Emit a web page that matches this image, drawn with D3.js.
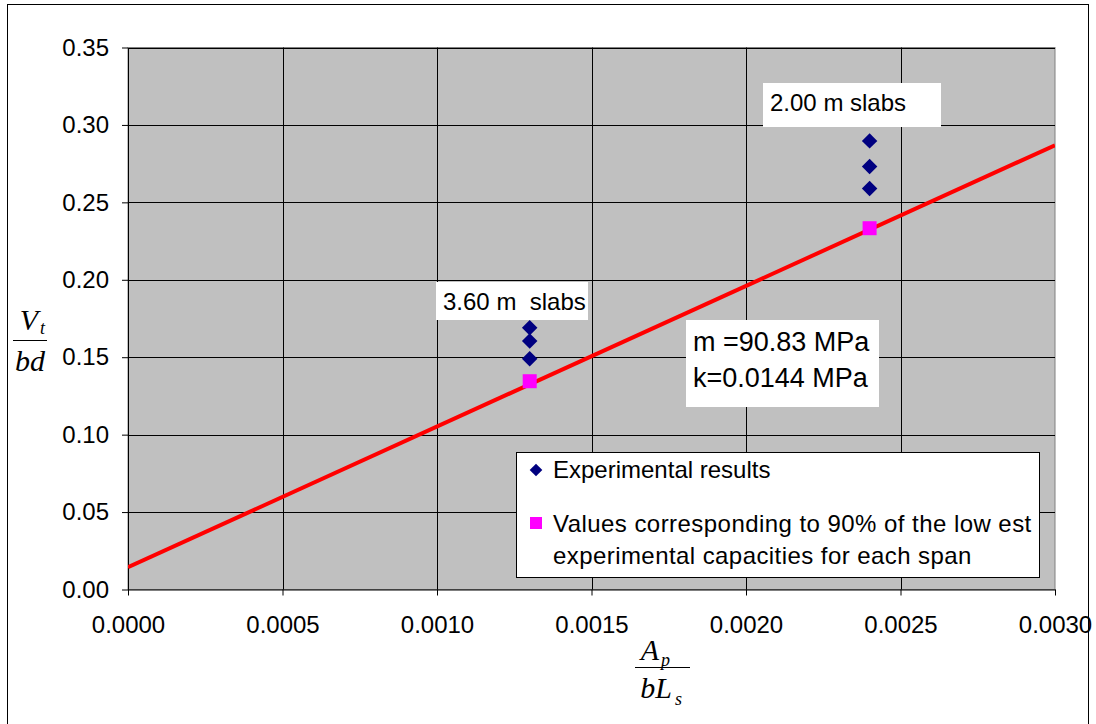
<!DOCTYPE html>
<html><head><meta charset="utf-8">
<script src="https://cdn.jsdelivr.net/npm/d3@7"></script>
<style>body{margin:0;background:#fff}svg{display:block}</style>
</head><body>
<svg id="c" width="1096" height="724"></svg>
<script>
const xTicks = [0, 0.0005, 0.0010, 0.0015, 0.0020, 0.0025, 0.0030];
const yTicks = [0, 0.05, 0.10, 0.15, 0.20, 0.25, 0.30, 0.35];
const expX = [0.0013, 0.0013, 0.0013, 0.0024, 0.0024, 0.0024];
const expY = [0.169, 0.1605, 0.149, 0.2897, 0.2731, 0.2589];
const designX = [0.0013, 0.0024];
const designY = [0.1345, 0.2333];
const fitM = 90.83, fitK = 0.0144;
const lineX = [0, 0.0030];

const svg = d3.select("#c");
const font = "Liberation Sans, Arial, sans-serif";
const L = 128, R = 1055, T = 47.5, B = 589.5;
const x = d3.scaleLinear().domain([0, 0.003]).range([L, R]);
const y = d3.scaleLinear().domain([0, 0.35]).range([B, T]);

// outer border
svg.append("rect").attr("x", 7.5).attr("y", 4.5).attr("width", 1081).attr("height", 730)
  .attr("fill", "#fff").attr("stroke", "#000").attr("stroke-width", 1);

// plot background
svg.append("rect").attr("x", L).attr("y", T).attr("width", R - L).attr("height", B - T)
  .attr("fill", "#c0c0c0").attr("stroke", "#808080").attr("stroke-width", 1);

// grid
svg.append("g").selectAll("line").data(yTicks.slice(1)).join("line")
  .attr("x1", L).attr("x2", R).attr("y1", d => Math.round(y(d)) + 0.5).attr("y2", d => Math.round(y(d)) + 0.5)
  .attr("stroke", "#000").attr("stroke-width", 1);
svg.append("g").selectAll("line").data(xTicks.slice(1, -1)).join("line")
  .attr("y1", T).attr("y2", B).attr("x1", d => Math.round(x(d)) + 0.5).attr("x2", d => Math.round(x(d)) + 0.5)
  .attr("stroke", "#000").attr("stroke-width", 1);

// axes
const xAxis = d3.axisBottom(x).tickValues(xTicks).tickFormat(d3.format(".4f")).tickSizeInner(6).tickSizeOuter(0).tickPadding(20);
const gx = svg.append("g").attr("transform", `translate(0,${B})`).call(xAxis);
gx.select(".domain").attr("stroke", "#000");
gx.selectAll("text").attr("font-family", font).attr("font-size", 24).attr("fill", "#000");
const yAxis = d3.axisLeft(y).tickValues(yTicks).tickFormat(d3.format(".2f")).tickSizeInner(6).tickSizeOuter(0).tickPadding(13);
const gy = svg.append("g").attr("transform", `translate(${L},0)`).call(yAxis);
gy.select(".domain").attr("stroke", "#000");
gy.selectAll("text").attr("font-family", font).attr("font-size", 24).attr("fill", "#000");

// clip for line
svg.append("clipPath").attr("id", "clip").append("rect").attr("x", L).attr("y", T).attr("width", R - L).attr("height", B - T);

// fit line
svg.append("path").attr("clip-path", "url(#clip)")
  .attr("d", d3.line().x(d => x(d)).y(d => y(fitK + fitM * d))(lineX))
  .attr("fill", "none").attr("stroke", "#ff0000").attr("stroke-width", 4);

// design points (squares)
svg.append("g").selectAll("rect").data(designX.map((d, i) => [d, designY[i]])).join("rect")
  .attr("x", d => x(d[0]) - 7).attr("y", d => y(d[1]) - 7).attr("width", 14).attr("height", 14)
  .attr("fill", "#ff00ff");

// experimental diamonds
const diamond = d3.symbol().type(d3.symbolSquare).size(120);
svg.append("g").selectAll("path").data(expX.map((d, i) => [d, expY[i]])).join("path")
  .attr("d", diamond).attr("transform", d => `translate(${x(d[0])},${y(d[1])}) rotate(45)`)
  .attr("fill", "#000080");

// label boxes
function box(x0, y0, w, h) {
  svg.append("rect").attr("x", x0).attr("y", y0).attr("width", w).attr("height", h).attr("fill", "#fff");
}
function txt(s, tx, ty, size, ls) {
  svg.append("text").attr("x", tx).attr("y", ty).attr("font-family", font).attr("font-size", size)
    .attr("letter-spacing", ls || 0).attr("fill", "#000").attr("xml:space", "preserve")
    .style("white-space", "pre").text(s);
}
box(436, 282, 152, 38);
txt("3.60 m  slabs", 443, 310, 24);
box(763, 83, 178, 44);
txt("2.00 m slabs", 770, 111, 24);
box(686, 320, 193, 87);
txt("m =90.83 MPa", 693, 351, 27);
txt("k=0.0144 MPa", 693, 387, 27);

// legend
svg.append("rect").attr("x", 516.5).attr("y", 452.5).attr("width", 523).attr("height", 125)
  .attr("fill", "#fff").attr("stroke", "#000").attr("stroke-width", 1);
svg.append("path").attr("d", d3.symbol().type(d3.symbolSquare).size(80))
  .attr("transform", "translate(536,470) rotate(45)").attr("fill", "#000080");
svg.append("rect").attr("x", 530).attr("y", 517).attr("width", 12).attr("height", 12).attr("fill", "#ff00ff");
txt("Experimental results", 553, 478, 24);
txt("Values corresponding to 90% of the low est", 553, 532, 24, 0.45);
txt("experimental capacities for each span", 553, 564, 24, 0.43);

// axis titles (fractions)
const serif = "Liberation Serif, Times New Roman, serif";
const yl = svg.append("g");
yl.append("text").attr("x", 29).attr("y", 330).attr("font-family", serif).attr("font-style", "italic")
  .attr("font-size", 30).attr("text-anchor", "middle").text("V");
yl.append("text").attr("x", 40).attr("y", 334).attr("font-family", serif).attr("font-style", "italic")
  .attr("font-size", 18).text("t");
yl.append("line").attr("x1", 13).attr("x2", 47).attr("y1", 340.5).attr("y2", 340.5).attr("stroke", "#000").attr("stroke-width", 1);
yl.append("text").attr("x", 30).attr("y", 371).attr("font-family", serif).attr("font-style", "italic")
  .attr("font-size", 30).attr("text-anchor", "middle").text("bd");

const xl = svg.append("g");
xl.append("text").attr("x", 650).attr("y", 660).attr("font-family", serif).attr("font-style", "italic")
  .attr("font-size", 30).attr("text-anchor", "middle").text("A");
xl.append("text").attr("x", 661).attr("y", 666).attr("font-family", serif).attr("font-style", "italic")
  .attr("font-size", 18).text("p");
xl.append("line").attr("x1", 635).attr("x2", 690).attr("y1", 667.5).attr("y2", 667.5).attr("stroke", "#000").attr("stroke-width", 1);
xl.append("text").attr("x", 656).attr("y", 698).attr("font-family", serif).attr("font-style", "italic")
  .attr("font-size", 30).attr("text-anchor", "middle").text("bL");
xl.append("text").attr("x", 675).attr("y", 705).attr("font-family", serif).attr("font-style", "italic")
  .attr("font-size", 18).text("s");
</script>
</body></html>
